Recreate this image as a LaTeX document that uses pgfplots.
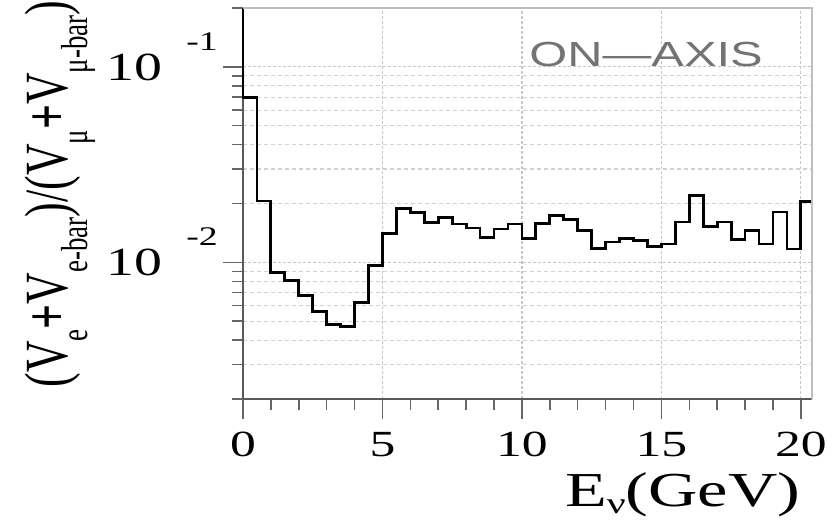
\documentclass[border=0pt]{standalone}
\usepackage{fontspec}
\setmainfont{Liberation Serif}
\newfontfamily\labelsans{Liberation Sans}
\usepackage{graphicx}
\usepackage{pgfplots}
\pgfplotsset{compat=1.18}

% the reference is stretched sideways, so all text is widened by 1.4
\newcommand\wide[1]{\scalebox{1.4}[1]{#1}}
\newcommand\xt[1]{\wide{\fontsize{37}{37}\selectfont #1}}
\newcommand\yt[1]{\makebox{\wide{\fontsize{40}{40}\selectfont 10}\hspace{24bp}%
  \raisebox{30bp}{\wide{\fontsize{27}{27}\selectfont -#1}}}}
\newcommand\sub[1]{\raisebox{-14bp}{\fontsize{27}{27}\selectfont #1}}

\begin{document}
\begin{tikzpicture}
\useasboundingbox (-243bp,-123bp) rectangle (589bp,399bp);
\begin{axis}[
    scale only axis, width=569bp, height=391bp,
    ymode=log,
    xmin=0, xmax=20.4, ymin=0.002, ymax=0.2,
    axis x line*=bottom, axis y line*=left,
    xtick={0,5,10,15,20},
    xticklabels={\xt{0},\xt{5},\xt{10},\xt{15},\xt{20}},
    minor xtick={1,2,3,4,6,7,8,9,11,12,13,14,16,17,18,19},
    ytick={0.01,0.1},
    yticklabels={\yt{2},\yt{1}},
    minor ytick={0.002,0.003,0.004,0.005,0.006,0.007,0.008,0.009,
                 0.02,0.03,0.04,0.05,0.06,0.07,0.08,0.09,0.2},
    tick align=outside,
    major tick length=20bp, minor tick length=11bp,
    tick style={black!60, line width=1.5bp},
    axis line style={black!65, line width=1.8bp},
    xmajorgrids, ymajorgrids, yminorgrids,
    major grid style={black!22, dash pattern=on 3bp off 2bp, line width=1.2bp},
    minor grid style={black!18, dash pattern=on 4bp off 3bp, line width=1.2bp},
    xticklabel style={anchor=north, inner sep=0pt, yshift=-13bp},
    yticklabel style={anchor=base east, inner sep=0pt, xshift=-5bp, yshift=-13.5bp},
    xlabel={\wide{\fontsize{49}{49}\selectfont E\raisebox{-7bp}{\fontsize{30}{30}\selectfont ν}(GeV)}},
    xlabel style={at={(axis description cs:0.773,0)}, anchor=north, inner sep=0pt, yshift=-73bp},
    ylabel={\scalebox{1}[1.4]{\fontsize{44}{44}\selectfont (V\sub{e}\textbf{+}V\sub{e-bar})/(V\sub{μ}\textbf{+}V\sub{μ-bar})}},
    ylabel style={at={([xshift=-175bp]axis description cs:0,0.524)}, anchor=base, inner sep=0pt},
    clip=false,
]
\addplot[const plot, black, line width=2.8bp] coordinates {
    (0,0.2) (0,0.070) (0.5,0.0206) (1.0,0.0089) (1.5,0.0081) (2.0,0.0068)
    (2.5,0.0056) (3.0,0.0048) (3.5,0.0047) (4.0,0.00625) (4.5,0.0096)
    (5.0,0.0141) (5.5,0.0188) (6.0,0.0180) (6.5,0.0160) (7.0,0.0170)
    (7.5,0.0157) (8.0,0.0150) (8.5,0.0134) (9.0,0.0148) (9.5,0.0157)
    (10.0,0.0132) (10.5,0.0158) (11.0,0.0173) (11.5,0.0166) (12.0,0.0145)
    (12.5,0.0118) (13.0,0.0127) (13.5,0.0132) (14.0,0.0129) (14.5,0.0120)
    (15.0,0.0124) (15.5,0.0161) (16.0,0.0219) (16.5,0.0152) (17.0,0.0161)
    (17.5,0.0131) (18.0,0.0145) (18.5,0.0124) (19.0,0.0181) (19.5,0.0117)
    (20.0,0.0205) (20.4,0.2)
};
\draw[black!25, line width=1.5bp] (rel axis cs:0,1) -- (rel axis cs:1,1) -- (rel axis cs:1,0);
\node[text=black!55, inner sep=0pt] at (axis cs:14.45,0.115)
    {\wide{\labelsans\fontsize{35}{35}\selectfont ON—AXIS}};
\end{axis}
\end{tikzpicture}
\end{document}
